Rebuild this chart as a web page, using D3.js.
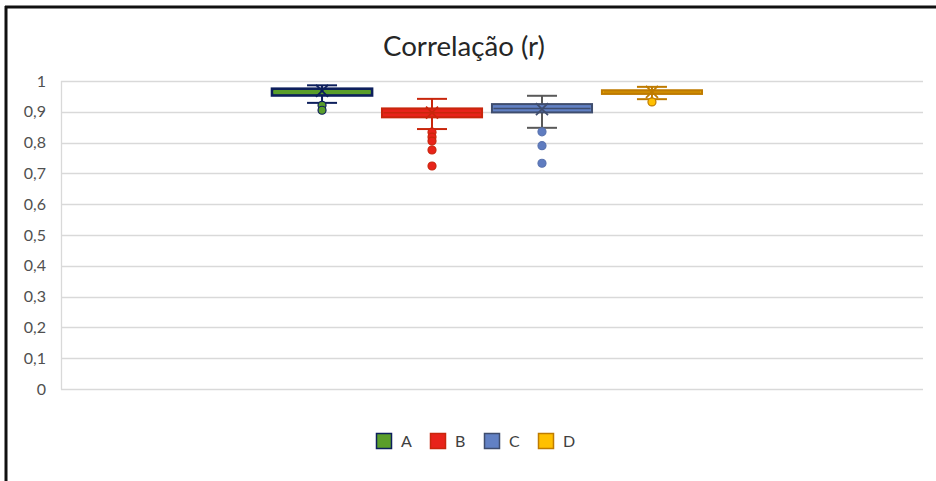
<!DOCTYPE html>
<html><head><meta charset="utf-8">
<script src="https://cdn.jsdelivr.net/npm/d3@7"></script>
<style>html,body{margin:0;padding:0;background:#fff;}svg{display:block;}</style>
</head><body>
<svg id="chart" width="936" height="481"></svg>
<script>
const title = "Correlação (r)";
const series = ["A", "B", "C", "D"];
const whiskerLow  = [0.929, 0.844, 0.848, 0.941];
const q1          = [0.953, 0.882, 0.898, 0.958];
const median      = [0.964, 0.897, 0.911, 0.964];
const q3          = [0.975, 0.911, 0.925, 0.970];
const whiskerHigh = [0.986, 0.942, 0.952, 0.981];
const means       = [0.968, 0.897, 0.909, 0.965];
const outliers    = [[0.921, 0.905], [0.834, 0.818, 0.805, 0.776, 0.724], [0.835, 0.790, 0.733], [0.932]];
const yTicks = [0, 0.1, 0.2, 0.3, 0.4, 0.5, 0.6, 0.7, 0.8, 0.9, 1];

const fills   = ["#5a9e2a", "#e8231a", "#6281c4", "#ffc000"];
const strokes = ["#0d1f5c", "#c8260c", "#3f4d6e", "#bf7b00"];
const boxStrokeW = [2.6, 2, 2, 2];
const whiskerColors = ["#0d1f5c", "#c8260c", "#595959", "#bf7b00"];
const dotStrokes = ["#0d1f5c", "#c8260c", "#5a74b0", "#bf7b00"];
const dotFills = ["#5a9e2a", "#e8231a", "#5f7cc0", "#ffc000"];

const svg = d3.select("#chart");
const font = "Lato, 'Open Sans', sans-serif";

// frame
svg.append("line").attr("x1", 5).attr("x2", 936).attr("y1", 7).attr("y2", 7).attr("stroke", "#111").attr("stroke-width", 3);
svg.append("line").attr("x1", 6).attr("x2", 6).attr("y1", 6).attr("y2", 481).attr("stroke", "#111").attr("stroke-width", 3);

// title
svg.append("text").attr("x", 464).attr("y", 56).attr("text-anchor", "middle")
  .attr("font-family", font).attr("font-size", 26).attr("fill", "#262626")
  .attr("textLength", 162).attr("lengthAdjust", "spacingAndGlyphs")
  .text(title);

const plotLeft = 61, plotRight = 923, plotTop = 81, plotBottom = 389;
const y = d3.scaleLinear().domain([0, 1]).range([plotBottom, plotTop]);
const x = d3.scaleBand().domain(series).range([272, 702]).paddingInner(0.09);

// gridlines
svg.append("g").selectAll("line").data(yTicks).join("line")
  .attr("x1", plotLeft).attr("x2", plotRight)
  .attr("y1", d => Math.round(y(d)) + 0.5).attr("y2", d => Math.round(y(d)) + 0.5)
  .attr("stroke", "#d9d9d9").attr("stroke-width", 1.3);
svg.append("line").attr("x1", plotLeft + 0.5).attr("x2", plotLeft + 0.5).attr("y1", plotTop).attr("y2", plotBottom + 0.5)
  .attr("stroke", "#d9d9d9").attr("stroke-width", 1.3);

// y axis labels
const yAxis = d3.axisLeft(y).tickValues(yTicks).tickSize(0).tickPadding(0)
  .tickFormat(d => d3.format(".1~f")(d).replace(".", ","));
const ga = svg.append("g").attr("transform", `translate(46,0)`).call(yAxis);
ga.select(".domain").remove();
ga.selectAll("text").attr("font-family", font).attr("font-size", 16).attr("fill", "#505050");

// boxes
series.forEach((s, i) => {
  const cx = x(s) + x.bandwidth() / 2;
  const g = svg.append("g");
  const wc = whiskerColors[i];
  const capW = 30;
  g.append("line").attr("x1", cx).attr("x2", cx).attr("y1", y(whiskerHigh[i])).attr("y2", y(q3[i])).attr("stroke", wc).attr("stroke-width", 2);
  g.append("line").attr("x1", cx).attr("x2", cx).attr("y1", y(q1[i])).attr("y2", y(whiskerLow[i])).attr("stroke", wc).attr("stroke-width", 2);
  g.append("line").attr("x1", cx - capW / 2).attr("x2", cx + capW / 2).attr("y1", y(whiskerHigh[i])).attr("y2", y(whiskerHigh[i])).attr("stroke", wc).attr("stroke-width", 2);
  g.append("line").attr("x1", cx - capW / 2).attr("x2", cx + capW / 2).attr("y1", y(whiskerLow[i])).attr("y2", y(whiskerLow[i])).attr("stroke", wc).attr("stroke-width", 2);
  g.append("rect").attr("x", x(s)).attr("width", x.bandwidth())
    .attr("y", y(q3[i])).attr("height", y(q1[i]) - y(q3[i]))
    .attr("fill", fills[i]).attr("stroke", strokes[i]).attr("stroke-width", boxStrokeW[i]);
  g.append("line").attr("x1", x(s) + 1.5).attr("x2", x(s) + x.bandwidth() - 1.5).attr("y1", y(median[i])).attr("y2", y(median[i]))
    .attr("stroke", i === 0 ? fills[i] : strokes[i]).attr("stroke-width", i === 0 ? 2 : 1.5);
  const my = y(means[i]), m = 6;
  g.append("path").attr("d", `M${cx - m},${my - m}L${cx + m},${my + m}M${cx - m},${my + m}L${cx + m},${my - m}`)
    .attr("stroke", strokes[i]).attr("stroke-width", 1.8);
  g.selectAll("circle").data(outliers[i]).join("circle")
    .attr("cx", cx).attr("cy", d => y(d)).attr("r", 4)
    .attr("fill", dotFills[i]).attr("stroke", dotStrokes[i]).attr("stroke-width", 1.2);
});

// legend
const legendX = d3.scaleBand().domain(series).range([376, 592]);
const lg = svg.append("g");
series.forEach((s, i) => {
  const lx = legendX(s);
  lg.append("rect").attr("x", lx + 0.5).attr("y", 433.5).attr("width", 15).attr("height", 15)
    .attr("fill", fills[i]).attr("stroke", strokes[i]).attr("stroke-width", 1.5);
  lg.append("text").attr("x", lx + 25).attr("y", 447).attr("font-family", font).attr("font-size", 16)
    .attr("fill", "#404040").text(s);
});
</script>
</body></html>
